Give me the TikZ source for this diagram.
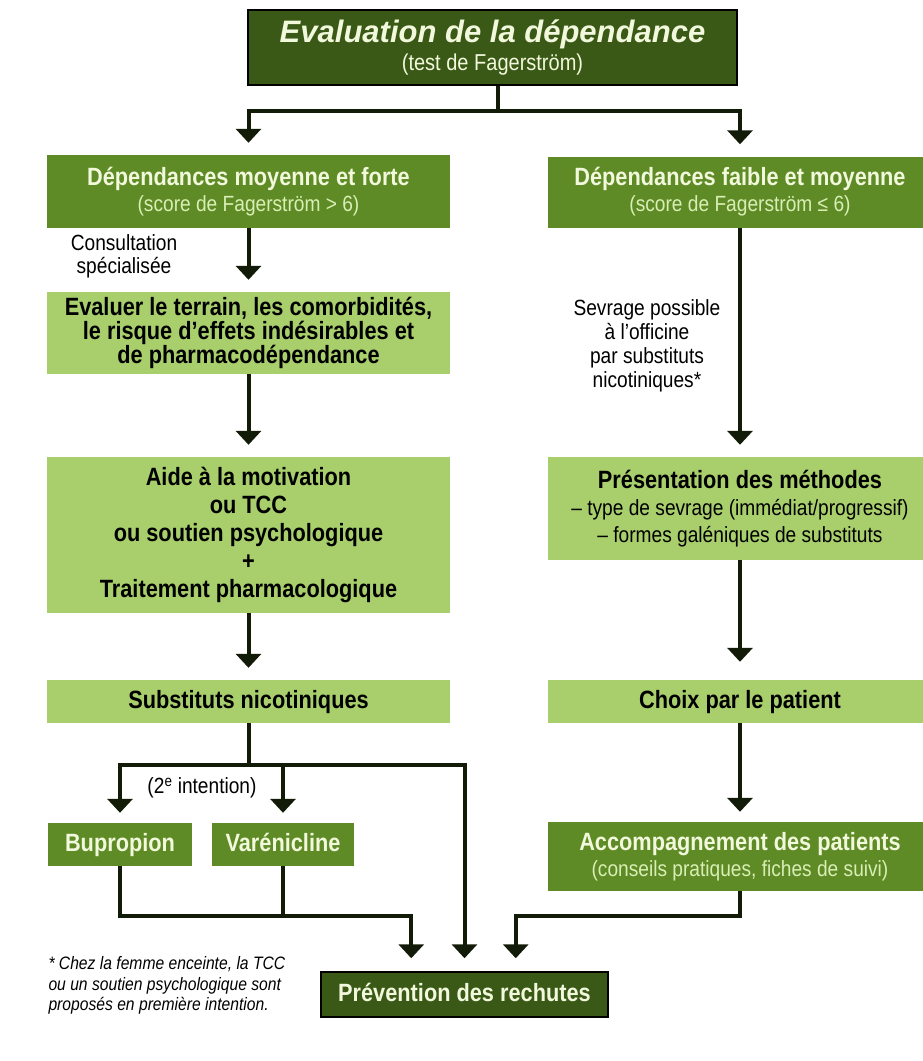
\documentclass[tikz,border=0pt]{standalone}
\usepackage{fontspec}
\setmainfont{Liberation Sans}[FakeStretch=0.87]
\newfontfamily\widefont{Liberation Sans}
\usetikzlibrary{arrows.meta,positioning,calc}
\definecolor{topgreen}{HTML}{3A5816}
\definecolor{midgreen}{HTML}{5E8B25}
\definecolor{lightgreen}{HTML}{A8CF6B}
\definecolor{linegreen}{HTML}{121B08}
\definecolor{palehead}{HTML}{F1F8DB}
\definecolor{palesub}{HTML}{D9EEB5}
\newcommand\headfont{\fontsize{25}{28}\selectfont\bfseries}
\newcommand\subfont{\fontsize{22}{26}\selectfont}
\newcommand\notefont{\fontsize{22}{24}\selectfont}

\begin{document}
\begin{tikzpicture}[x=1pt,y=-1pt,
    darkbox/.style={draw=black, line width=1.5pt, fill=topgreen, text=palehead, inner sep=0pt, align=center},
    midbox/.style={fill=midgreen, text=palehead, inner sep=0pt, align=center, font=\headfont},
    lightbox/.style={fill=lightgreen, text=black, inner sep=0pt, align=center, font=\headfont},
    oneline/.style={text height=18pt, text depth=5pt},
    link/.style={draw=linegreen, line width=4pt},
    flow/.style={link, -{Triangle[width=25pt,length=14pt]}, shorten >=12pt}
    ]
  \useasboundingbox (0,0) rectangle (923,1061);
  \node [darkbox, minimum width=489pt, minimum height=75pt] (eval) at (492.5,47.5)
    {{\widefont\fontsize{31}{33}\selectfont\bfseries\itshape Evaluation de la dépendance}\\[3pt]
     {\fontsize{23}{24}\selectfont (test de Fagerström)}};
  \node [midbox, minimum width=403pt, minimum height=73pt] (depL) at (248.5,191.5)
    {Dépendances moyenne et forte\\[-2pt] {\subfont\mdseries\color{palesub}(score de Fagerström > 6)}};
  \node [midbox, minimum width=384pt, minimum height=71pt] (depR) at (740,192)
    {Dépendances faible et moyenne\\[-2pt] {\subfont\mdseries\color{palesub}(score de Fagerström ≤ 6)}};
  \node [lightbox, minimum width=403pt, minimum height=82pt] (terrain) at (248.5,333)
    {Evaluer le terrain, les comorbidités,\\[-4pt] le risque d’effets indésirables et\\[-4pt] de pharmacodépendance};
  \node [lightbox, minimum width=403pt, minimum height=156pt] (aide) at (248.5,535)
    {Aide à la motivation\\ ou TCC\\ ou soutien psychologique\\ +\\ Traitement pharmacologique};
  \node [lightbox, oneline, minimum width=403pt, minimum height=43pt] (subst) at (248.5,701.5)
    {Substituts nicotiniques};
  \node [lightbox, minimum width=384pt, minimum height=103pt] (methodes) at (740,508.5)
    {Présentation des méthodes\\[-1pt]
     {\subfont\mdseries -- type de sevrage (immédiat/progressif)}\\[-1pt]
     {\subfont\mdseries -- formes galéniques de substituts}};
  \node [lightbox, oneline, minimum width=384pt, minimum height=43pt] (choix) at (740,701.5)
    {Choix par le patient};
  \node [midbox, minimum width=384pt, minimum height=69pt] (accomp) at (740,856.5)
    {Accompagnement des patients\\[-2pt] {\subfont\mdseries\color{palesub}(conseils pratiques, fiches de suivi)}};
  \node [midbox, oneline, minimum width=144pt, minimum height=43pt] (bupro) at (120,844.5) {Bupropion};
  \node [midbox, oneline, minimum width=142pt, minimum height=43pt] (vareni) at (283,844.5) {Varénicline};
  \node [darkbox, oneline, font=\headfont, minimum width=287pt, minimum height=45pt] (rechute) at (464.5,994.5)
    {Prévention des rechutes};

  \node [font=\notefont, align=center] (consult) at (124,256) {Consultation\\[-1pt] spécialisée};
  \node [font=\notefont, align=center] (officine) at (647,346)
    {Sevrage possible\\ à l’officine\\ par substituts\\ nicotiniques*};
  \node [font=\notefont] (intention) at (202,788) {(2\textsuperscript{e} intention)};
  \node [font=\fontsize{18}{20.5}\selectfont\itshape, align=left, anchor=north west] (femme) at (45,953)
    {* Chez la femme enceinte, la TCC\\ ou un soutien psychologique sont\\ proposés en première intention.};

  \coordinate (split) at ($(eval.south)+(5.5,25)$);
  \draw [link] ($(eval.south)+(5.5,0)$) -- (split);
  \draw [flow] (split) -| (depL);
  \draw [flow] (split) -| (depR);
  \draw [flow] (depL) -- (terrain);
  \draw [flow] (terrain) -- (aide);
  \draw [flow] (aide) -- (subst);
  \draw [flow] (depR) -- (methodes);
  \draw [flow, shorten >=18pt] (methodes) -- (choix);
  \draw [flow, shorten >=10pt] (choix) -- (accomp);

  \coordinate (fork) at ($(subst.south)+(0,42)$);
  \draw [link] (subst) -- (fork);
  \draw [flow, shorten >=10pt] (fork) -| (bupro);
  \draw [flow, shorten >=10pt] (fork) -| (vareni);
  \draw [flow, shorten >=13pt] (fork) -| (rechute);

  \coordinate (joinL) at ($(rechute.north west)+(91,-55)$);
  \coordinate (joinR) at ($(rechute.north east)+(-93,-55)$);
  \draw [link] (vareni) -- (vareni |- joinL);
  \draw [flow, shorten >=13pt] (bupro) |- (joinL) -- (joinL |- rechute.north);
  \draw [flow, shorten >=13pt] (accomp) |- (joinR) -- (joinR |- rechute.north);
\end{tikzpicture}
\end{document}
